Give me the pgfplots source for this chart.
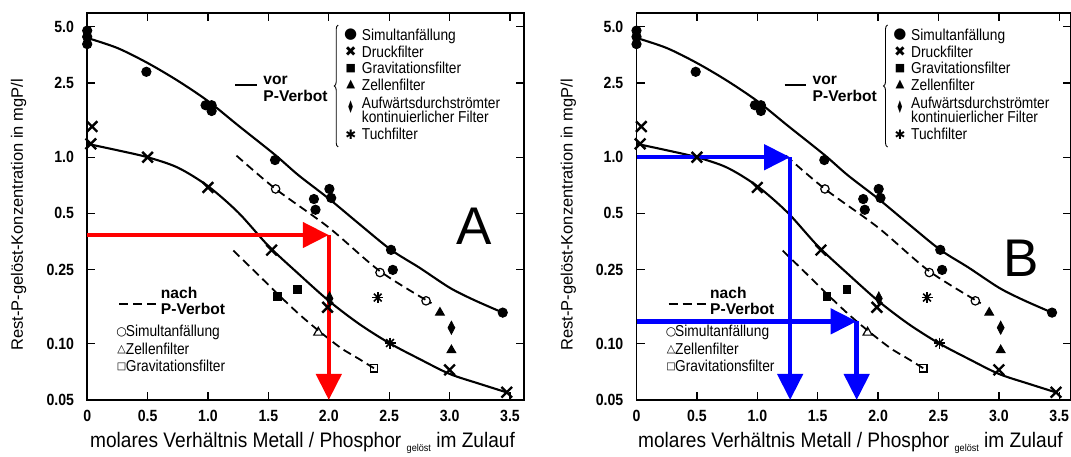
\documentclass[border=0pt]{standalone}
\usepackage{fontspec}
\setmainfont{Liberation Sans}
\newfontfamily\narrow[FakeStretch=0.87]{Liberation Sans}
\newfontfamily\xlfont[FakeStretch=0.91]{Liberation Sans}
\newfontfamily\symfont{DejaVu Sans}
\usepackage{graphicx}
\usepackage{pgfplots}
\pgfplotsset{compat=1.18}
\usetikzlibrary{arrows.meta,decorations.pathreplacing}

\newcommand\tickfont{\narrow\bfseries\fontsize{16.2}{17}\selectfont}
\newcommand\legfont{\narrow\fontsize{15.8}{16}\selectfont}
\newcommand\vfont{\bfseries\fontsize{15.6}{16}\selectfont}
\newcommand\symsize[1]{\symfont\fontsize{#1}{#1}\selectfont}

\pgfplotsset{
  mypanel/.style={
    scale only axis, height=387pt, anchor=south west, clip=false,
    ymin=0.05, ymax=5.93, xmin=0,
    xtick={0,0.5,1,1.5,2,2.5,3,3.5},
    xticklabels={0,0.5,1.0,1.5,2.0,2.5,3.0,3.5},
    ytick={0.05,0.1,0.25,0.5,1,2.5,5},
    yticklabels={0.05,0.10,0.25,0.5,1.0,2.5,5.0},
    minor tick num=0, yminorticks=false,
    tick pos=both, tick align=inside, major tick length=8pt,
    axis line style={line width=1.4pt},
    tick style={line width=1.3pt, black},
    ticklabel style={font=\tickfont, inner sep=0pt},
    xticklabel style={yshift=-10pt},
    yticklabel style={xshift=-13pt},
    xlabel={molares Verhältnis Metall / Phosphor \raisebox{-4pt}{\fontsize{10}{10}\selectfont gelöst} im Zulauf},
    ylabel={Rest-P-gelöst-Konzentration in mgP/l},
    xlabel style={font=\xlfont\fontsize{21}{24}\selectfont, at={(axis description cs:0.493,-0.124)}, anchor=base, inner sep=0pt},
    ylabel style={font=\fontsize{16.5}{18}\selectfont, at={(axis description cs:-0.147,0.478)}, anchor=base, inner sep=0pt},
  },
  curve/.style={black, line width=2.1pt, smooth, no marks},
  dcurve/.style={black, line width=1.8pt, smooth, no marks, dash pattern=on 8.5pt off 5pt},
  pts/.style={black, only marks, line width=#1, mark options={line width=#1}},
  arrowline/.style={#1, line width=4.5pt, no marks, -{Triangle[length=26pt,width=25pt]}},
}

% data common to both panels
\newcommand\panelbody{%
  % vor P-Verbot, Simultanfaellung (fit)
  \addplot[curve] coordinates {(0,4.36)(0.25,3.85)(0.5,3.2)(0.75,2.57)(1.0,2.0)(1.25,1.48)
    (1.555,1.03)(1.75,0.80)(2.0,0.60)(2.25,0.44)(2.515,0.319)(2.75,0.256)(3.0,0.20)(3.2,0.172)(3.44,0.147)};
  % vor P-Verbot, Druckfilter (fit)
  \addplot[curve] coordinates {(0,1.18)(0.25,1.09)(0.5,1.0)(0.75,0.88)(1.0,0.70)(1.25,0.506)
    (1.5,0.335)(1.75,0.237)(2.0,0.170)(2.25,0.128)(2.5,0.101)(2.75,0.083)(3.0,0.069)(3.25,0.061)(3.47,0.055)};
  % nach P-Verbot
  \addplot[dcurve] coordinates {(1.236,1.02)(1.56,0.676)(2.0,0.42)(2.424,0.245)(2.85,0.165)};
  \addplot[dcurve] coordinates {(1.21,0.316)(1.4,0.24)(1.577,0.185)(1.75,0.145)(1.913,0.118)(2.1,0.095)(2.25,0.083)(2.374,0.074)};
  % Simultanfaellung
  \addplot[pts=1pt, mark=*, mark size=4.6pt] coordinates {(0,4.77)(0,4.42)(0,4.04)(0.49,2.87)(0.98,1.90)(1.03,1.90)(1.03,1.77)
    (1.555,0.966)(1.877,0.597)(1.89,0.523)(2.005,0.676)(2.02,0.605)(2.515,0.319)(2.53,0.249)(3.44,0.147)};
  % Gravitationsfilter
  \addplot[pts=1pt, mark=square*, mark size=3.9pt] coordinates {(1.577,0.180)(1.742,0.195)};
  % Zellenfilter
  \addplot[pts=1pt, mark=triangle*, mark size=5pt] coordinates {(2.92,0.147)(3.015,0.0925)};
  % Aufwaertsdurchstroemter kontinuierlicher Filter
  \addplot[pts=0.8pt, mark=diamond*, mark size=6.5pt, mark options={xscale=0.7}] coordinates {(3.015,0.122)(2.006,0.175)};
  % Druckfilter
  \addplot[pts=2.4pt, mark=x, mark size=7.5pt] coordinates {(0.04,1.46)(0.03,1.18)(0.5,1.0)(1.0,0.689)(1.527,0.318)(1.99,0.157)(3.0,0.0725)(3.473,0.055)};
  % Tuchfilter
  \addplot[pts=1.6pt, mark=+, mark size=5.5pt] coordinates {(2.405,0.177)(2.507,0.101)};
  \addplot[pts=1.6pt, mark=x, mark size=5.5pt] coordinates {(2.405,0.177)(2.507,0.101)};
  % nach P-Verbot, open marks
  \addplot[pts=1.2pt, mark=o, mark size=4.2pt] coordinates {(1.56,0.676)(2.424,0.241)(2.805,0.170)};
  \addplot[pts=1.2pt, mark=triangle, mark size=5.2pt] coordinates {(1.913,0.115)};
  \addplot[pts=1.2pt, mark=square, mark size=3.8pt] coordinates {(2.374,0.074)};
}

% legends, relative to the axis' upper left corner (1pt = 1px)
\newcommand\legends{%
  \draw[line width=0.9pt, decorate, decoration={brace, amplitude=4pt}] (251pt,-134pt) -- (251pt,-12pt);
  \draw[line width=2pt] (148pt,-72pt) -- (169.5pt,-72pt);
  \node[anchor=base west, inner sep=0pt, font=\vfont] at (176pt,-72pt) {vor};
  \node[anchor=base west, inner sep=0pt, font=\vfont] at (176pt,-88.7pt) {P-Verbot};
  \foreach \t/\y in {Simultanfällung/27.7, Druckfilter/44.3, Gravitationsfilter/61, Zellenfilter/78,
      Aufwärtsdurchströmter/96, kontinuierlicher Filter/109.7, Tuchfilter/127}
    \node[anchor=base west, inner sep=0pt, font=\legfont] at ({274.5pt},{-\y*1pt}) {\t};
  \node[inner sep=0pt, font=\symsize{15}] at (263.5pt,-22pt) {●};
  \node[inner sep=0pt, font=\symsize{14}] at (263.5pt,-38.7pt) {✖};
  \node[inner sep=0pt, font=\symsize{11}] at (263.5pt,-55.3pt) {■};
  \node[inner sep=0pt, font=\symsize{11.5}] at (263.5pt,-71.5pt) {▲};
  \node[inner sep=0pt, font=\symsize{12}] at (263.5pt,-94pt) {\scalebox{0.5}[1.4]{◆}};
  \node[inner sep=0pt, font=\symsize{13}] at (263.5pt,-122pt) {✱};
  % nach P-Verbot
  \draw[line width=1.8pt, dash pattern=on 9pt off 5pt] (32pt,-291pt) -- (69.5pt,-291pt);
  \node[anchor=base west, inner sep=0pt, font=\vfont] at (73.5pt,-285.3pt) {nach};
  \node[anchor=base west, inner sep=0pt, font=\vfont] at (73.5pt,-302pt) {P-Verbot};
  \node[anchor=base west, inner sep=0pt, font=\legfont] at (38.5pt,-323.7pt) {Simultanfällung};
  \node[anchor=base west, inner sep=0pt, font=\legfont] at (38.5pt,-341.3pt) {Zellenfilter};
  \node[anchor=base west, inner sep=0pt, font=\legfont] at (38.5pt,-358.7pt) {Gravitationsfilter};
  \node[inner sep=0pt, font=\symsize{12}] at (34.5pt,-319.3pt) {○};
  \node[inner sep=0pt, font=\symsize{11}] at (34.5pt,-337pt) {△};
  \node[inner sep=0pt, font=\symsize{10}] at (34.5pt,-354.3pt) {□};
}

\begin{document}
\begin{tikzpicture}
\useasboundingbox (0,0) rectangle (1071pt,457pt);

\begin{axis}[ymode=log, mypanel, name=A, at={(87.2pt,57pt)}, width=436.8pt, xmax=3.616]
  \panelbody
  \addplot[arrowline=red] coordinates {(0,0.383)(2,0.383)};
  \addplot[arrowline=red] coordinates {(2,0.383)(2,0.05)};
\end{axis}
\begin{scope}[shift={(A.north west)}]
  \legends
  \node[inner sep=0pt, font=\fontsize{53}{53}\selectfont] at (387pt,-212.8pt) {A};
\end{scope}

\begin{axis}[ymode=log, mypanel, name=B, at={(636.5pt,57pt)}, width=434pt, xmax=3.593]
  \panelbody
  \addplot[arrowline=blue] coordinates {(0,1.0)(1.272,1.0)};
  \addplot[arrowline=blue] coordinates {(1.272,1.0)(1.272,0.05)};
  \addplot[arrowline=blue] coordinates {(0,0.132)(1.823,0.132)};
  \addplot[arrowline=blue] coordinates {(1.823,0.132)(1.823,0.05)};
\end{axis}
\begin{scope}[shift={(B.north west)}]
  \legends
  \node[inner sep=0pt, font=\fontsize{53}{53}\selectfont] at (384.5pt,-245pt) {B};
\end{scope}
\end{tikzpicture}
\end{document}
